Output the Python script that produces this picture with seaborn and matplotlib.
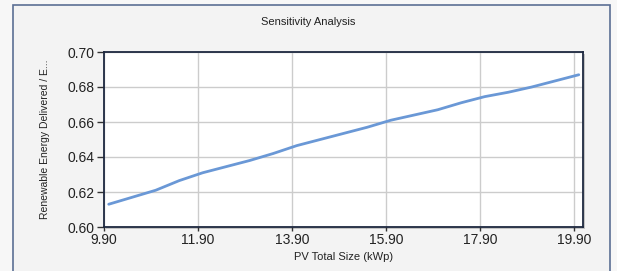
import seaborn as sns
import matplotlib.pyplot as plt
import pandas as pd
from matplotlib.patches import Rectangle

# Data
pv_size = [10.0, 10.5, 11.0, 11.5, 12.0, 12.5, 13.0, 13.5, 14.0, 14.5, 15.0,
           15.5, 16.0, 16.5, 17.0, 17.5, 18.0, 18.5, 19.0, 19.5, 20.0]
renewable_frac = [0.613, 0.617, 0.621, 0.6265, 0.631, 0.6345, 0.638, 0.642,
                  0.6465, 0.650, 0.6535, 0.657, 0.661, 0.664, 0.667, 0.671,
                  0.6745, 0.677, 0.680, 0.6835, 0.687]
x_ticks = [9.90, 11.90, 13.90, 15.90, 17.90, 19.90]
y_ticks = [0.60, 0.62, 0.64, 0.66, 0.68, 0.70]

df = pd.DataFrame({"PV": pv_size, "RE": renewable_frac})

sns.set_style("white")
plt.rcParams['font.family'] = ['Liberation Sans', 'DejaVu Sans']

fig = plt.figure(figsize=(6.17, 2.71), dpi=100)
fig.patch.set_facecolor("#f7f7f7")

# outer panel frame
fig.patches.append(Rectangle((13 / 617, -0.05), 597 / 617, 1.05 - 5 / 271,
                             transform=fig.transFigure, facecolor="#f3f3f3",
                             edgecolor="#5b6f94", lw=1.2, zorder=-2))
# shadow behind plot area
fig.patches.append(Rectangle((106 / 617, 1 - 229 / 271), 479 / 617, 175 / 271,
                             transform=fig.transFigure, facecolor="#c4c4c4",
                             edgecolor="none", zorder=-1))
fig.text(0.5, 1 - 22 / 271, "Sensitivity Analysis", ha="center", va="center",
         fontsize=8, color="#222222")

ax = fig.add_axes([104 / 617, 1 - 227 / 271, 479 / 617, 175 / 271])
ax.set_zorder(2)
ax.set_facecolor("white")

sns.lineplot(data=df, x="PV", y="RE", ax=ax, color="#6a98d6", lw=2)

ax.set_xlim(9.9, 20.09)
ax.set_ylim(0.60, 0.70)
ax.set_xticks(x_ticks)
ax.set_xticklabels([f"{v:.2f}" for v in x_ticks])
ax.set_yticks(y_ticks)
ax.set_yticklabels([f"{v:.2f}" for v in y_ticks])
ax.grid(True, color="#cccccc", lw=1)
ax.set_axisbelow(True)
for s in ax.spines.values():
    s.set_color("#1e2940")
    s.set_linewidth(1.3)

ax.tick_params(axis="y", which="both", left=True, length=5, width=1,
               color="#333333", labelsize=10, pad=2, labelcolor="#222222")
ax.tick_params(axis="x", which="both", bottom=True, length=3, width=1,
               color="#333333", labelsize=10, pad=1, labelcolor="#222222")

ax.set_xlabel("PV Total Size (kWp)", fontsize=8, color="#222222", labelpad=4)
ax.set_ylabel("Renewable Energy Delivered / E...", fontsize=7.5,
              color="#222222", labelpad=12)

fig.savefig("out.png", dpi=100, facecolor=fig.get_facecolor())
